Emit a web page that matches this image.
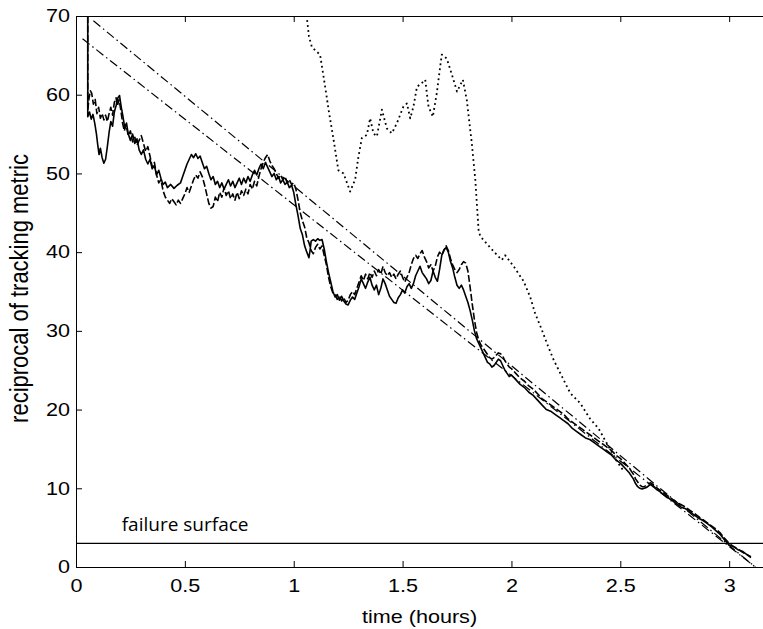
<!DOCTYPE html>
<html>
<head>
<meta charset="utf-8">
<script src="https://cdn.jsdelivr.net/npm/d3@7"></script>
<style>
  body { margin: 0; background: #fff; }
  svg { display: block; }
</style>
</head>
<body>
<div id="chart"></div>
<script>
// tick values
const xTicks = [0, 0.5, 1, 1.5, 2, 2.5, 3];
const yTicks = [0, 10, 20, 30, 40, 50, 60, 70];
const failureLevel = 3;

// reciprocal tracking metric, solid trace [hours, value]
const solidTrace = [
  [0.054, 70], [0.054, 57.2], [0.062, 57.8], [0.07, 56.9], [0.078, 57.5], [0.086, 56.4],
  [0.094, 55.0], [0.1, 53.6], [0.106, 52.4], [0.112, 53.2], [0.12, 52.0], [0.128, 51.3],
  [0.136, 51.8], [0.144, 53.4], [0.152, 55.2], [0.16, 56.6], [0.168, 56.0], [0.176, 57.8],
  [0.184, 58.6], [0.192, 59.6], [0.2, 59.9], [0.208, 58.4], [0.216, 57.2], [0.224, 55.8],
  [0.232, 56.4], [0.24, 55.0], [0.25, 54.2], [0.26, 55.0], [0.27, 53.8], [0.28, 54.4],
  [0.29, 53.0], [0.3, 52.4], [0.31, 53.0], [0.32, 51.8], [0.33, 51.2], [0.34, 51.8],
  [0.35, 50.6], [0.36, 51.0], [0.37, 49.8], [0.38, 50.4], [0.39, 49.4], [0.4, 48.6],
  [0.41, 48.9], [0.42, 48.2], [0.435, 48.6], [0.45, 48.1], [0.465, 48.5], [0.48, 48.8],
  [0.49, 49.6], [0.5, 50.4], [0.51, 51.2], [0.52, 51.8], [0.53, 52.4], [0.54, 52.0],
  [0.55, 52.5], [0.56, 51.9], [0.57, 52.2], [0.58, 51.4], [0.59, 50.6], [0.6, 50.9],
  [0.61, 50.0], [0.62, 49.2], [0.63, 49.6], [0.64, 48.6], [0.65, 49.0], [0.66, 48.2],
  [0.67, 48.8], [0.68, 48.0], [0.69, 48.6], [0.7, 49.2], [0.71, 48.4], [0.72, 49.0],
  [0.73, 48.2], [0.74, 48.8], [0.75, 49.4], [0.76, 48.6], [0.77, 49.4], [0.78, 48.8],
  [0.79, 49.6], [0.8, 49.0], [0.81, 49.8], [0.82, 50.4], [0.83, 49.8], [0.84, 50.6],
  [0.85, 51.2], [0.86, 50.6], [0.87, 51.4], [0.88, 50.8], [0.89, 50.2], [0.9, 49.6],
  [0.91, 50.0], [0.92, 49.2], [0.93, 49.6], [0.94, 48.8], [0.95, 49.2], [0.96, 48.6],
  [0.97, 48.9], [0.98, 48.2], [0.99, 48.5], [1.0, 47.6], [1.01, 46.0], [1.02, 44.6],
  [1.03, 43.0], [1.04, 42.2], [1.05, 40.8], [1.06, 40.0], [1.07, 39.3], [1.075, 40.2],
  [1.08, 41.4], [1.09, 41.6], [1.1, 41.4], [1.11, 41.7], [1.12, 41.5], [1.13, 41.6],
  [1.14, 40.4], [1.15, 38.8], [1.16, 37.4], [1.17, 36.2], [1.18, 35.0], [1.19, 34.3],
  [1.2, 34.6], [1.21, 33.9], [1.22, 34.4], [1.23, 33.8], [1.24, 33.4], [1.25, 33.3],
  [1.26, 33.9], [1.27, 34.3], [1.28, 34.0], [1.29, 34.8], [1.3, 35.6], [1.31, 36.6],
  [1.32, 36.0], [1.33, 35.4], [1.34, 36.2], [1.35, 36.8], [1.36, 35.8], [1.37, 35.2],
  [1.38, 35.8], [1.39, 34.6], [1.4, 35.4], [1.41, 36.6], [1.42, 36.0], [1.43, 35.2],
  [1.44, 34.4], [1.45, 34.0], [1.46, 33.6], [1.47, 33.5], [1.48, 34.2], [1.49, 34.6],
  [1.5, 35.2], [1.51, 34.8], [1.52, 35.6], [1.53, 36.0], [1.54, 35.4], [1.55, 36.0],
  [1.56, 37.0], [1.57, 37.6], [1.58, 38.2], [1.59, 37.4], [1.6, 37.0], [1.61, 36.6],
  [1.62, 36.0], [1.63, 36.4], [1.64, 37.6], [1.65, 36.8], [1.66, 36.3], [1.67, 37.8],
  [1.68, 39.6], [1.69, 40.3], [1.7, 40.6], [1.71, 40.0], [1.72, 38.8], [1.73, 38.0],
  [1.74, 36.8], [1.75, 35.8], [1.76, 35.4], [1.77, 35.8], [1.78, 35.2], [1.79, 34.4],
  [1.8, 33.6], [1.81, 32.6], [1.82, 31.4], [1.83, 30.0], [1.84, 29.0], [1.85, 28.4],
  [1.86, 27.8], [1.87, 27.2], [1.88, 26.6], [1.89, 26.0], [1.9, 25.8], [1.91, 25.4],
  [1.92, 25.6], [1.93, 26.0], [1.94, 26.4], [1.95, 26.2], [1.96, 25.6], [1.97, 25.0],
  [1.98, 24.6], [1.99, 24.2], [2.0, 24.4], [2.02, 23.8], [2.04, 23.2], [2.06, 22.8],
  [2.08, 22.2], [2.1, 21.8], [2.12, 21.2], [2.14, 20.6], [2.16, 20.0], [2.18, 19.8],
  [2.2, 19.4], [2.22, 19.0], [2.24, 18.6], [2.26, 18.2], [2.28, 17.6], [2.3, 17.2],
  [2.32, 16.8], [2.34, 16.4], [2.36, 16.2], [2.38, 15.8], [2.4, 15.4], [2.42, 15.0],
  [2.44, 14.6], [2.46, 14.2], [2.48, 13.6], [2.5, 13.2], [2.52, 12.6], [2.54, 12.0],
  [2.56, 11.2], [2.57, 10.6], [2.58, 10.2], [2.59, 10.0], [2.6, 9.9], [2.61, 10.0],
  [2.62, 10.1], [2.63, 10.3], [2.64, 10.5], [2.65, 10.4], [2.66, 10.0], [2.68, 9.6],
  [2.7, 9.2], [2.72, 8.8], [2.74, 8.4], [2.76, 8.0], [2.78, 7.6], [2.8, 7.4],
  [2.82, 7.0], [2.84, 6.6], [2.86, 6.2], [2.88, 5.9], [2.9, 5.5], [2.92, 5.1],
  [2.94, 4.6], [2.96, 4.1], [2.98, 3.4], [3.0, 2.8], [3.02, 2.6], [3.04, 2.2],
  [3.06, 2.0], [3.08, 1.6], [3.1, 1.3],
];

// second trace, drawn dashed
const dashedTrace = [
  [0.054, 70], [0.054, 58.0], [0.06, 59.6], [0.066, 60.5], [0.072, 60.2], [0.08, 58.8],
  [0.088, 59.4], [0.096, 57.6], [0.104, 58.4], [0.112, 57.0], [0.12, 57.6], [0.128, 56.8],
  [0.136, 57.4], [0.144, 56.6], [0.152, 57.6], [0.16, 58.4], [0.168, 57.4], [0.176, 59.0],
  [0.184, 59.6], [0.19, 58.6], [0.198, 59.4], [0.206, 58.0], [0.214, 56.4], [0.222, 55.4],
  [0.23, 56.2], [0.24, 54.8], [0.25, 55.4], [0.26, 54.0], [0.27, 54.6], [0.28, 53.6],
  [0.29, 54.2], [0.3, 54.8], [0.31, 53.8], [0.32, 52.8], [0.33, 53.4], [0.34, 52.2],
  [0.35, 50.8], [0.36, 51.4], [0.37, 49.8], [0.38, 48.8], [0.39, 49.2], [0.4, 47.8],
  [0.41, 47.0], [0.42, 46.6], [0.43, 46.2], [0.44, 46.8], [0.45, 46.4], [0.46, 46.0],
  [0.47, 46.6], [0.48, 46.2], [0.49, 46.8], [0.5, 47.4], [0.51, 48.2], [0.52, 47.6],
  [0.53, 48.4], [0.54, 49.2], [0.55, 49.8], [0.56, 49.4], [0.57, 50.2], [0.58, 49.6],
  [0.59, 48.6], [0.6, 47.4], [0.61, 46.2], [0.62, 45.6], [0.63, 45.8], [0.64, 47.0],
  [0.65, 46.4], [0.66, 47.6], [0.67, 47.0], [0.68, 48.2], [0.69, 47.2], [0.7, 47.8],
  [0.71, 46.8], [0.72, 47.4], [0.73, 46.6], [0.74, 47.6], [0.75, 46.8], [0.76, 47.8],
  [0.77, 47.2], [0.78, 48.0], [0.79, 47.4], [0.8, 48.6], [0.81, 48.0], [0.82, 49.0],
  [0.83, 48.4], [0.84, 49.6], [0.85, 50.6], [0.86, 51.4], [0.87, 52.0], [0.88, 52.4],
  [0.89, 51.6], [0.9, 51.0], [0.91, 50.6], [0.92, 50.0], [0.93, 49.4], [0.94, 49.8],
  [0.95, 49.2], [0.96, 49.6], [0.97, 48.8], [0.98, 49.2], [0.99, 48.6], [1.0, 48.8],
  [1.01, 48.0], [1.02, 46.6], [1.03, 45.0], [1.04, 44.0], [1.05, 43.2], [1.06, 41.8],
  [1.07, 41.2], [1.08, 40.2], [1.09, 39.8], [1.1, 40.6], [1.11, 41.0], [1.12, 40.4],
  [1.13, 40.8], [1.14, 39.6], [1.15, 38.4], [1.16, 36.8], [1.17, 35.6], [1.18, 34.8],
  [1.19, 34.6], [1.2, 34.0], [1.21, 34.4], [1.22, 33.8], [1.23, 34.2], [1.24, 33.6],
  [1.25, 33.9], [1.26, 34.6], [1.27, 35.0], [1.28, 34.6], [1.29, 35.4], [1.3, 36.2],
  [1.31, 37.0], [1.32, 36.4], [1.33, 37.2], [1.34, 36.6], [1.35, 37.4], [1.36, 36.8],
  [1.37, 37.6], [1.38, 37.0], [1.39, 37.8], [1.4, 37.2], [1.41, 38.2], [1.42, 37.4],
  [1.43, 37.0], [1.44, 37.4], [1.45, 36.8], [1.46, 37.2], [1.47, 36.6], [1.48, 37.2],
  [1.49, 37.6], [1.5, 36.8], [1.51, 36.2], [1.52, 36.8], [1.53, 37.4], [1.54, 38.4],
  [1.55, 39.2], [1.56, 39.6], [1.57, 39.2], [1.58, 39.8], [1.59, 40.2], [1.6, 39.4],
  [1.61, 38.8], [1.62, 38.0], [1.63, 38.4], [1.64, 37.6], [1.65, 38.2], [1.66, 39.4],
  [1.67, 40.0], [1.68, 39.6], [1.69, 40.2], [1.7, 40.8], [1.71, 40.2], [1.72, 39.2],
  [1.73, 38.4], [1.74, 37.8], [1.75, 37.4], [1.76, 37.8], [1.77, 38.4], [1.78, 38.8],
  [1.79, 38.6], [1.8, 37.6], [1.81, 35.6], [1.82, 33.4], [1.83, 31.4], [1.84, 29.8],
  [1.85, 28.8], [1.86, 28.2], [1.87, 27.8], [1.88, 27.4], [1.89, 27.0], [1.9, 26.6],
  [1.91, 26.4], [1.92, 26.6], [1.93, 26.9], [1.94, 27.2], [1.95, 27.1], [1.96, 26.8],
  [1.97, 26.2], [1.98, 25.8], [1.99, 25.4], [2.0, 25.2], [2.02, 24.6], [2.04, 24.0],
  [2.06, 23.6], [2.08, 23.0], [2.1, 22.6], [2.12, 22.0], [2.14, 21.4], [2.16, 21.0],
  [2.18, 20.6], [2.2, 20.2], [2.22, 19.8], [2.24, 19.4], [2.26, 18.8], [2.28, 18.4],
  [2.3, 18.0], [2.32, 17.6], [2.34, 17.2], [2.36, 16.8], [2.38, 16.4], [2.4, 16.0],
  [2.42, 15.6], [2.44, 15.2], [2.46, 14.8], [2.48, 14.2], [2.5, 13.8], [2.52, 13.2],
  [2.54, 12.6], [2.56, 11.8], [2.57, 11.2], [2.58, 10.8], [2.59, 10.4], [2.6, 10.2],
  [2.61, 10.2], [2.62, 10.4], [2.63, 10.6], [2.64, 10.7], [2.65, 10.5], [2.66, 10.2],
  [2.68, 9.8], [2.7, 9.4], [2.72, 9.0], [2.74, 8.6], [2.76, 8.2], [2.78, 7.9],
  [2.8, 7.6], [2.82, 7.2], [2.84, 6.8], [2.86, 6.4], [2.88, 6.0], [2.9, 5.6],
  [2.92, 5.2], [2.94, 4.8], [2.96, 4.3], [2.98, 3.6], [3.0, 3.0], [3.02, 2.6],
  [3.04, 2.3], [3.06, 1.9], [3.08, 1.6], [3.1, 1.2],
];

// third trace, dotted
const dottedTrace = [
  [1.05, 72], [1.06, 69.9], [1.07, 67.4], [1.083, 66.1], [1.1, 65.6], [1.121, 65.1],
  [1.137, 62.3], [1.15, 60.0], [1.16, 58.1], [1.183, 54.3], [1.205, 50.4], [1.229, 50.0],
  [1.259, 47.7], [1.282, 49.2], [1.297, 52.1], [1.313, 54.5], [1.336, 54.9], [1.351, 57.0],
  [1.366, 55.1], [1.382, 54.7], [1.405, 58.1], [1.428, 55.7], [1.451, 55.1], [1.474, 56.4],
  [1.504, 58.5], [1.52, 58.9], [1.535, 57.0], [1.55, 58.5], [1.566, 61.0], [1.589, 61.5],
  [1.604, 61.9], [1.619, 58.5], [1.639, 57.2], [1.657, 60.2], [1.68, 65.1], [1.703, 64.6],
  [1.727, 62.5], [1.75, 60.4], [1.777, 61.9], [1.795, 59.3], [1.818, 53.8], [1.834, 49.2],
  [1.849, 42.8], [1.857, 42.0], [1.918, 40.1], [1.956, 39.0], [1.971, 39.6], [2.01, 38.2],
  [2.056, 36.3], [2.086, 34.3], [2.109, 32.2], [2.14, 30.1], [2.163, 28.4], [2.194, 26.3],
  [2.232, 24.2], [2.27, 22.1], [2.316, 20.8], [2.362, 18.8], [2.4, 17.6], [2.43, 16.1],
  [2.461, 14.6], [2.485, 13.4], [2.515, 12.2],
];

// straight-line fits (dash-dot)
const fitUpper = [[0.08, 69.4], [3.12, 0]];
const fitLower = [[0.03, 67.1], [3.12, 0]];

const size = { width: 763, height: 629 };
const margin = { left: 76, top: 16, right: -1, bottom: 62 };
const stretch = 1.2; // the scan is wider than tall, so text is squashed sideways

const svg = d3
  .select('#chart')
  .append('svg')
  .attr('width', size.width)
  .attr('height', size.height);

const x = d3
  .scaleLinear()
  .domain([0, 3.16])
  .range([margin.left, size.width - margin.right]);

const y = d3
  .scaleLinear()
  .domain([0, 70])
  .range([size.height - margin.bottom, margin.top]);

svg
  .append('clipPath')
  .attr('id', 'plot-clip')
  .append('rect')
  .attr('x', x(0))
  .attr('y', y(70))
  .attr('width', x(3.16) - x(0))
  .attr('height', y(0) - y(70));

const line = d3
  .line()
  .x((d) => x(d[0]))
  .y((d) => y(d[1]));

const plot = svg.append('g').attr('clip-path', 'url(#plot-clip)');

// failure surface
plot
  .append('line')
  .attr('x1', x(0))
  .attr('x2', x(3.16))
  .attr('y1', y(failureLevel))
  .attr('y2', y(failureLevel))
  .attr('stroke', '#000')
  .attr('stroke-width', 1.2);

const series = [
  { data: fitUpper, dash: '9,3.5,1.5,3.5', width: 1.2 },
  { data: fitLower, dash: '9,3.5,1.5,3.5', width: 1.2 },
  { data: dottedTrace, dash: '1.8,3.2', width: 1.8 },
  { data: dashedTrace, dash: '7,2.5', width: 1.6 },
  { data: solidTrace, dash: null, width: 1.6 },
];

plot
  .selectAll('path.series')
  .data(series)
  .join('path')
  .attr('class', 'series')
  .attr('d', (d) => line(d.data))
  .attr('fill', 'none')
  .attr('stroke', '#000')
  .attr('stroke-width', (d) => d.width)
  .attr('stroke-dasharray', (d) => d.dash)
  .attr('stroke-linejoin', 'round');

const tickFont = (g) => {
  g.selectAll('text')
    .style('font-family', '"Liberation Sans", Arial, Helvetica, sans-serif')
    .style('font-size', '18px')
    .attr('fill', '#000')
    .attr('transform', `scale(${stretch}, 1)`);
  g.selectAll('line').attr('stroke', '#000');
  g.select('.domain').attr('stroke', '#000');
};

// bottom axis, ticks pointing in
svg
  .append('g')
  .attr('transform', `translate(0, ${y(0)})`)
  .call(
    d3
      .axisBottom(x)
      .tickValues(xTicks)
      .tickFormat(d3.format('~g'))
      .tickSizeInner(-6)
      .tickSizeOuter(0)
      .tickPadding(12),
  )
  .call(tickFont);

// top axis, no labels
svg
  .append('g')
  .attr('transform', `translate(0, ${y(70)})`)
  .call(
    d3
      .axisTop(x)
      .tickValues(xTicks)
      .tickFormat('')
      .tickSizeInner(-6)
      .tickSizeOuter(0),
  )
  .call(tickFont);

// left axis
svg
  .append('g')
  .attr('transform', `translate(${x(0)}, 0)`)
  .call(
    d3
      .axisLeft(y)
      .tickValues(yTicks)
      .tickSizeInner(-6)
      .tickSizeOuter(0)
      .tickPadding(5),
  )
  .call(tickFont);

svg
  .append('text')
  .attr('x', x(0.21))
  .attr('y', y(4.6))
  .style('font-family', '"Open Sans", "Noto Sans", sans-serif')
  .style('font-size', '19px')
  .text('failure surface');

svg
  .append('text')
  .attr('transform', `translate(${(x(0) + size.width) / 2}, 623) scale(${stretch}, 1)`)
  .attr('text-anchor', 'middle')
  .style('font-family', '"Liberation Sans", Arial, sans-serif')
  .style('font-size', '18px')
  .text('time (hours)');

svg
  .append('text')
  .attr('transform', `translate(28, ${(y(0) + y(70)) / 2 - 3}) scale(${stretch}, 1) rotate(-90)`)
  .attr('text-anchor', 'middle')
  .style('font-family', '"Liberation Sans", Arial, sans-serif')
  .style('font-size', '22px')
  .text('reciprocal of tracking metric');
</script>
</body>
</html>
